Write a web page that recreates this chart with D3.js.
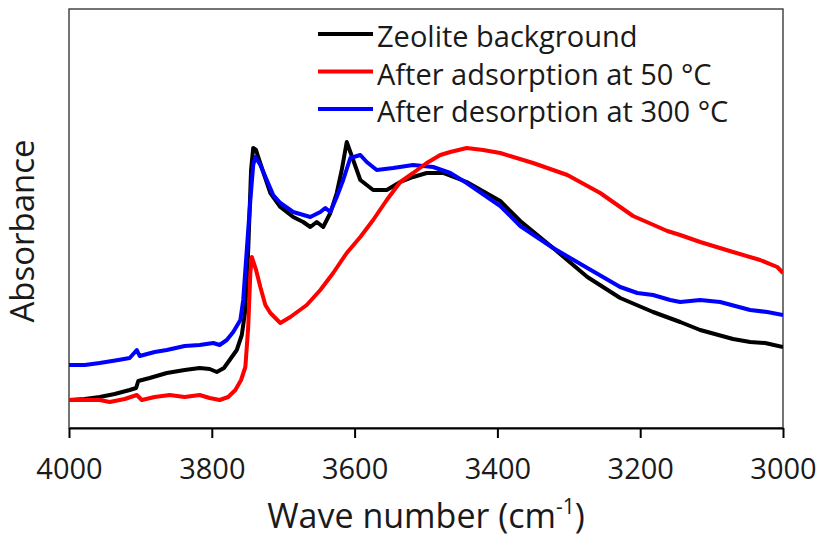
<!DOCTYPE html>
<html>
<head>
<meta charset="utf-8">
<title>IR spectra</title>
<script src="https://d3js.org/d3.v7.min.js"></script>
<style>
 body { margin: 0; background: #fff; }
 text { font-family: "Open Sans", sans-serif; fill: #1a1a1a; }
 .tick text { font-size: 29px; }
 .axis-title { font-size: 34px; }
 .y-title { font-size: 33px; }
 .legend text { font-size: 29px; }
</style>
</head>
<body>
<div id="chart"></div>
<script>
// series values (absorbance, arbitrary units)
var zeoliteWn = [4000,3978,3957,3936,3915,3906,3903,3887,3863,3838,3817,3803,3793,3783,3775,3765,3758,3753,3749,3745,3742,3738,3735,3728,3718,3704,3686,3672,3662,3653,3644,3634,3625,3618,3611,3602,3592,3574,3555,3536,3518,3499,3476,3443,3396,3368,3322,3274,3228,3182,3144,3116,3070,3046,3025,3000];
var zeoliteAbs = [0.28,0.29,0.31,0.34,0.38,0.40,0.47,0.50,0.55,0.58,0.60,0.59,0.56,0.60,0.68,0.78,0.93,1.18,1.78,2.58,2.80,2.78,2.71,2.56,2.35,2.21,2.11,2.06,2.01,2.06,2.01,2.15,2.35,2.58,2.86,2.68,2.48,2.38,2.38,2.46,2.51,2.55,2.55,2.46,2.27,2.07,1.80,1.51,1.30,1.16,1.06,0.98,0.89,0.86,0.85,0.81];

var adsWn = [4000,3978,3957,3943,3922,3905,3898,3880,3859,3838,3817,3803,3789,3777,3767,3759,3753,3749,3746,3744,3738,3732,3725,3718,3704,3690,3667,3648,3630,3611,3592,3574,3555,3536,3518,3499,3480,3466,3443,3420,3396,3350,3302,3256,3210,3162,3144,3116,3070,3032,3008,3000];
var adsAbs = [0.28,0.28,0.28,0.26,0.29,0.33,0.28,0.31,0.33,0.31,0.33,0.30,0.28,0.31,0.38,0.48,0.61,1.01,1.55,1.71,1.58,1.41,1.23,1.15,1.05,1.11,1.23,1.38,1.55,1.75,1.91,2.08,2.28,2.46,2.55,2.65,2.73,2.76,2.80,2.78,2.75,2.65,2.53,2.35,2.12,1.97,1.93,1.86,1.76,1.68,1.61,1.55];

var desWn = [4000,3978,3957,3931,3915,3905,3901,3880,3863,3838,3817,3798,3789,3779,3770,3760,3756,3752,3746,3742,3739,3732,3723,3714,3704,3686,3662,3648,3641,3634,3625,3616,3606,3592,3583,3569,3546,3518,3490,3466,3443,3396,3368,3322,3274,3228,3204,3182,3158,3144,3116,3088,3067,3046,3022,3000];
var desAbs = [0.63,0.63,0.65,0.68,0.70,0.78,0.72,0.76,0.78,0.82,0.83,0.85,0.83,0.88,0.96,1.08,1.28,1.68,2.28,2.63,2.71,2.63,2.48,2.33,2.25,2.16,2.11,2.16,2.20,2.16,2.31,2.48,2.70,2.73,2.66,2.58,2.60,2.63,2.61,2.55,2.45,2.22,2.02,1.80,1.60,1.41,1.35,1.33,1.28,1.26,1.28,1.26,1.22,1.18,1.16,1.13];

var seriesNames = ["Zeolite background", "After adsorption at 50 °C", "After desorption at 300 °C"];
var seriesColors = ["#000000", "#ff0000", "#0000ff"];
var xTicks = [4000, 3800, 3600, 3400, 3200, 3000];

var margin = {top: 9, right: 35, bottom: 109, left: 69};
var width = 818 - margin.left - margin.right;
var height = 537 - margin.top - margin.bottom;

var xScale = d3.scaleLinear().domain([4000, 3000]).range([0, width]);
var yScale = d3.scaleLinear().domain([0, 4.19]).range([height, 0]);

var svg = d3.select("#chart").append("svg")
  .attr("width", 818)
  .attr("height", 537)
  .append("g")
  .attr("transform", "translate(" + margin.left + "," + margin.top + ")");

svg.append("clipPath").attr("id", "clip")
  .append("rect").attr("width", width).attr("height", height);

// plot frame
svg.append("rect")
  .attr("width", width)
  .attr("height", height)
  .attr("fill", "none")
  .attr("stroke", "#3a3a3a")
  .attr("stroke-width", 1.4);

var series = [
  {wn: zeoliteWn, abs: zeoliteAbs},
  {wn: adsWn, abs: adsAbs},
  {wn: desWn, abs: desAbs}
];

var line = d3.line()
  .x(function(d) { return xScale(d[0]); })
  .y(function(d) { return yScale(d[1]); });

// black, blue, then red on top
[0, 2, 1].forEach(function(i) {
  var pts = series[i].wn.map(function(w, j) { return [w, series[i].abs[j]]; });
  svg.append("path")
    .datum(pts)
    .attr("clip-path", "url(#clip)")
    .attr("fill", "none")
    .attr("stroke", seriesColors[i])
    .attr("stroke-width", 4)
    .attr("stroke-linejoin", "round")
    .attr("d", line);
});

var xAxis = svg.append("g")
  .attr("transform", "translate(0," + height + ")")
  .call(d3.axisBottom(xScale).tickValues(xTicks).tickSize(10).tickSizeOuter(0).tickPadding(20).tickFormat(d3.format("d")));
xAxis.select(".domain").attr("stroke", "#000").attr("stroke-width", 2);
xAxis.selectAll(".tick line").attr("stroke", "#000").attr("stroke-width", 2);
xAxis.selectAll(".tick text").attr("fill", "#1a1a1a").style("font-family", "'Open Sans', sans-serif").attr("font-size", null);

var xt = svg.append("text")
  .attr("class", "axis-title")
  .attr("x", width / 2)
  .attr("y", height + 100)
  .style("text-anchor", "middle");
xt.append("tspan").text("Wave number (cm");
xt.append("tspan").attr("font-size", "21px").attr("dy", -14).text("-1");
xt.append("tspan").attr("dy", 14).text(")");

svg.append("text")
  .attr("class", "y-title")
  .attr("transform", "translate(" + (34 - margin.left) + "," + (231 - margin.top) + ") rotate(-90)")
  .style("text-anchor", "middle")
  .text("Absorbance");

var legend = svg.append("g").attr("class", "legend")
  .attr("transform", "translate(" + (318 - margin.left) + "," + (47 - margin.top) + ")");
seriesNames.forEach(function(name, i) {
  var g = legend.append("g").attr("transform", "translate(0," + (i * 37.5) + ")");
  g.append("line")
    .attr("x1", 0).attr("x2", 55)
    .attr("y1", -13).attr("y2", -13)
    .attr("stroke", seriesColors[i])
    .attr("stroke-width", 4);
  g.append("text")
    .attr("x", 59)
    .attr("y", 0)
    .text(name);
});
</script>
</body>
</html>
